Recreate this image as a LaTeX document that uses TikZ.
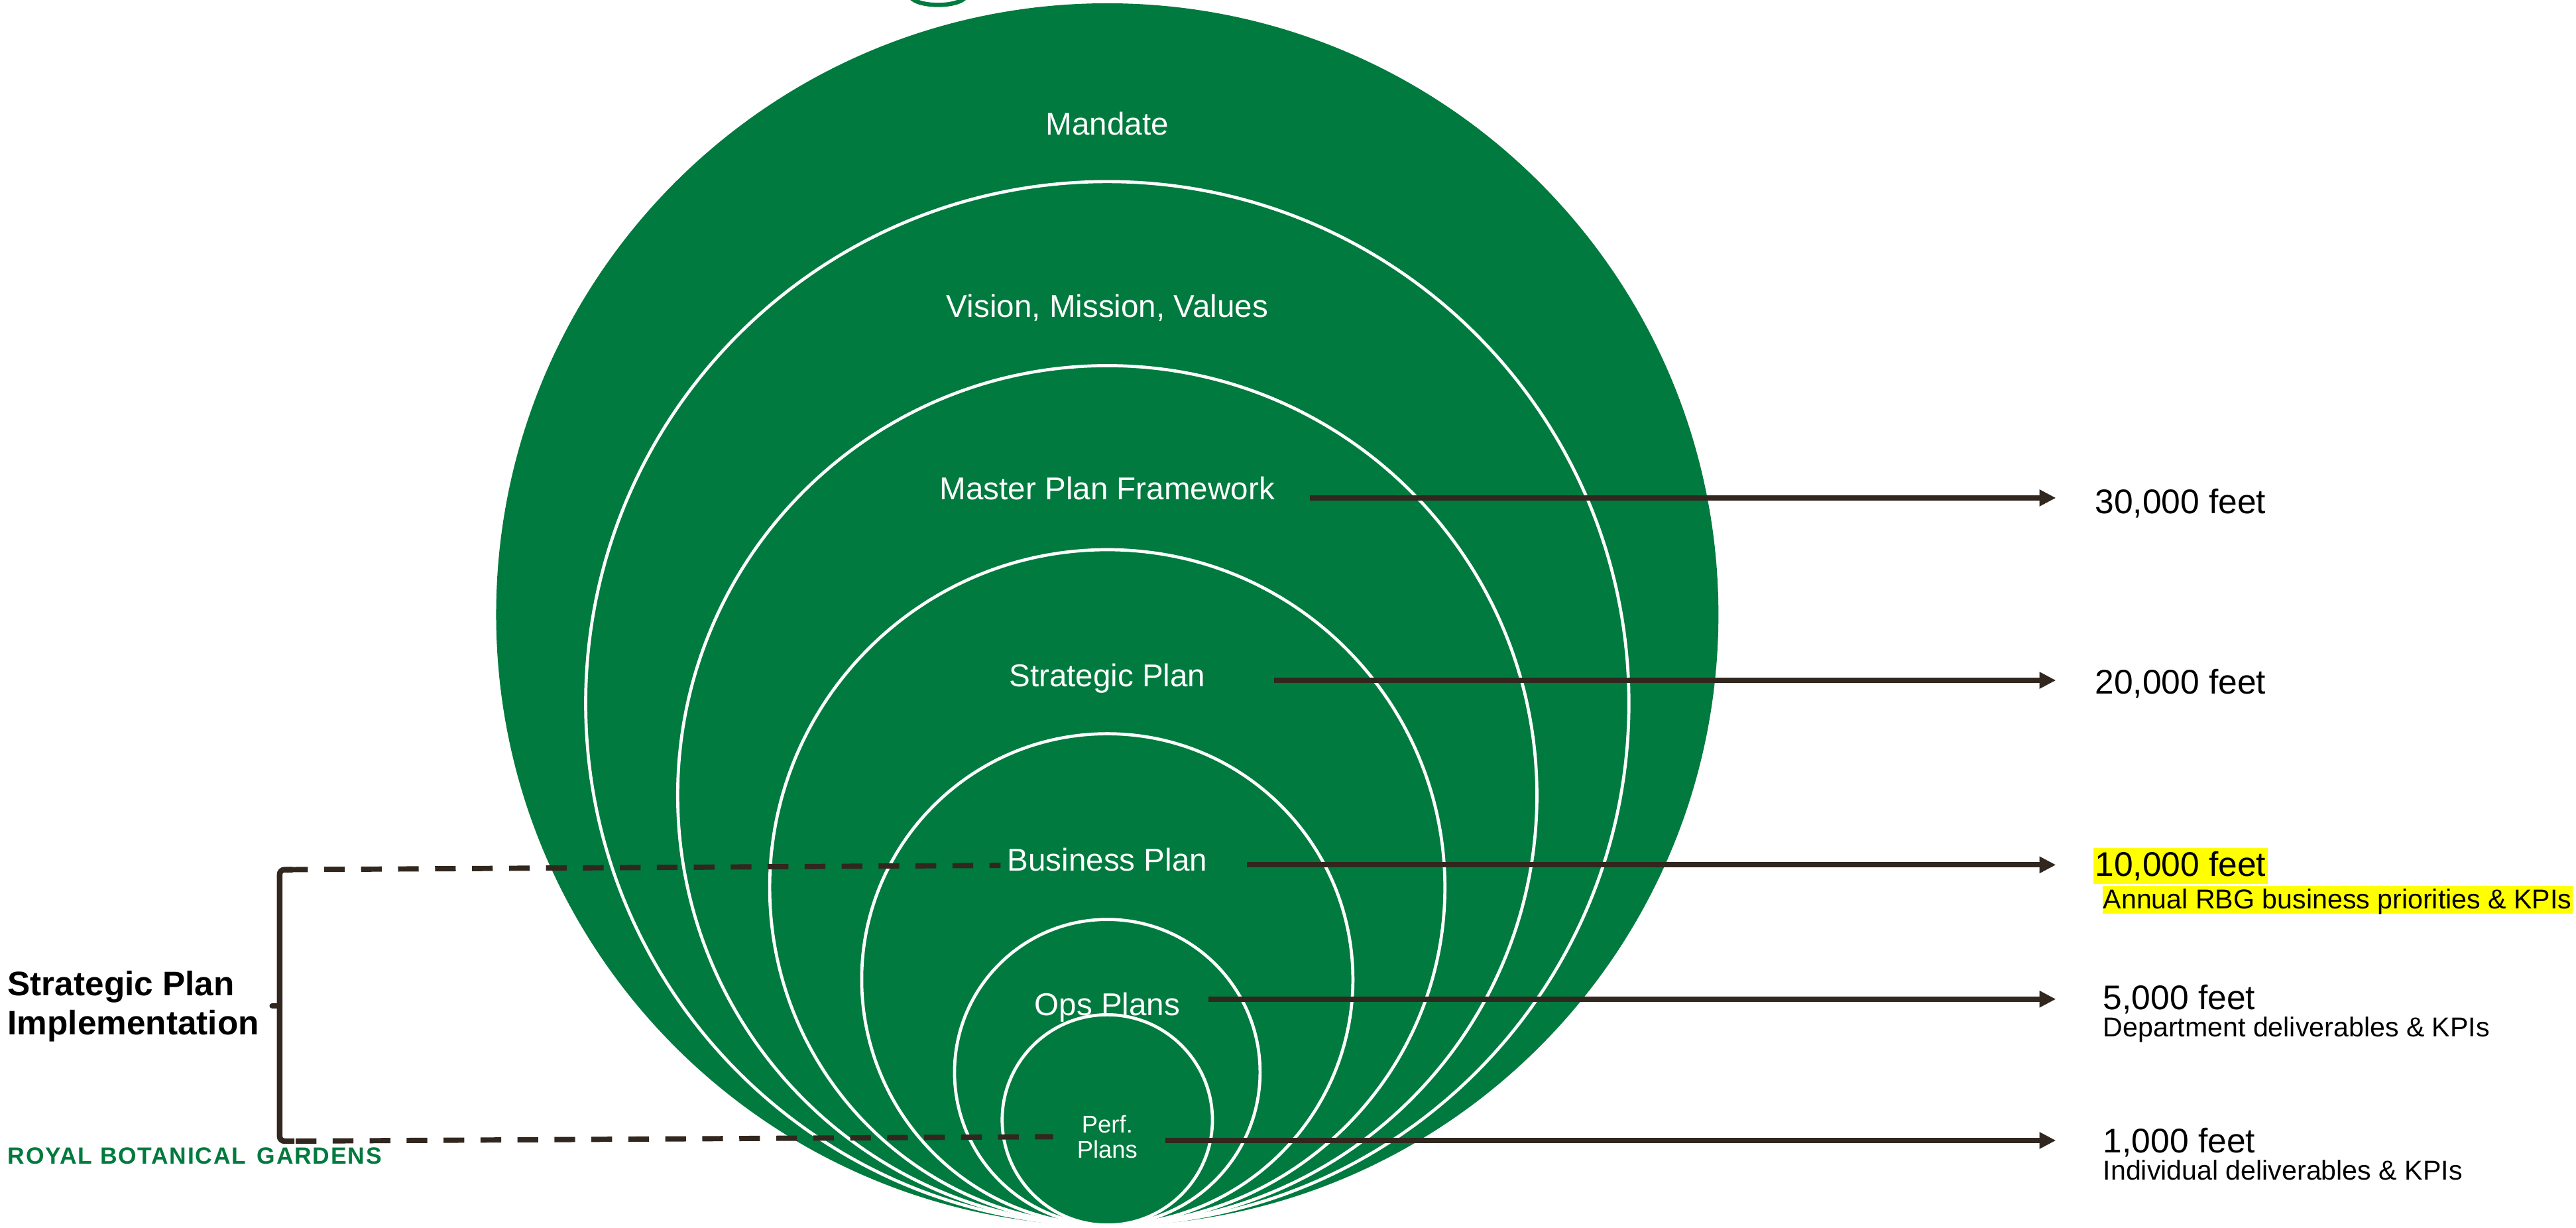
\documentclass[tikz,border=0pt]{standalone}
\usepackage{fontspec}
\setmainfont{Liberation Sans}
\newfontfamily\brandfont[LetterSpace=5]{Liberation Sans}
\usetikzlibrary{arrows.meta}
\definecolor{rbggreen}{RGB}{0,122,62}
\definecolor{ink}{RGB}{49,39,30}
\definecolor{marker}{RGB}{255,255,0}
\begin{document}
\begin{tikzpicture}[x=1pt,y=-1pt,
  ring/.style={draw=white,line width=1.9pt},
  level/.style={text=white,anchor=base,inner sep=0pt,font=\fontsize{19.2}{23}\selectfont},
  small level/.style={text=white,anchor=base,inner sep=0pt,align=center,font=\fontsize{14.7}{15.2}\selectfont},
  altitude/.style={anchor=base west,inner sep=0pt,font=\fontsize{20.8}{24}\selectfont},
  note/.style={anchor=base west,inner sep=0pt,font=\fontsize{16.6}{20}\selectfont},
  pointer/.style={draw=ink,line width=3.3pt,-{Triangle[length=10pt,width=9.6pt]}},
  link/.style={draw=ink,line width=3.2pt,dash pattern=on 12.6pt off 9.9pt},
  brace/.style={draw=ink,line width=3.4pt,rounded corners=3pt},
]
\useasboundingbox (0,0) rectangle (1568,747);

% fragment of the emblem above the circles
\draw[rbggreen,line width=2.6pt] (571,-3) ellipse[x radius=17,y radius=6];

% nested levels, all touching at the bottom
\fill[rbggreen] (674,374) circle[radius=372];
\foreach \r in {317.5,261.5,205.5,149.5,93,64}
  \draw[ring] (674,745.5-\r) circle[radius=\r];

% level names
\node[level] (mandate) at (674,82) {Mandate};
\node[level] (vmv) at (674,193) {Vision, Mission, Values};
\node[level] (master) at (674,304) {Master Plan Framework};
\node[level] (strat) at (674,418) {Strategic Plan};
\node[level] (bus) at (674,530) {Business Plan};
\node[level] (ops) at (674,618) {Ops Plans};
\node[small level] (perf) at (674,704.5) {Perf.\\Plans};

% altitudes
\coordinate (tip) at (1251.4,0);
\node[altitude] (f30) at (1275,312.4) {30,000 feet};
\node[altitude] (f20) at (1275,422.4) {20,000 feet};
\node[altitude,fill=marker,inner xsep=1pt,text height=17.4pt,text depth=4.6pt] (f10) at (1274,533.4) {10,000 feet};
\node[note,fill=marker,inner xsep=0.5pt,text height=14pt,text depth=3pt] (n10) at (1279.5,553) {Annual RBG business priorities \& KPIs};
\node[altitude] (f5) at (1280,614.4) {5,000 feet};
\node[note] (n5) at (1280,631) {Department deliverables \& KPIs};
\node[altitude] (f1) at (1280,701.4) {1,000 feet};
\node[note] (n1) at (1280,718) {Individual deliverables \& KPIs};

% pointers from each level to its altitude
\coordinate (s30) at (797.4,303);
\coordinate (s20) at (775.7,414);
\coordinate (s10) at (759,526.3);
\coordinate (s5) at (735.4,608);
\coordinate (s1) at (709.5,694);
\foreach \s in {s30,s20,s10,s5,s1}
  \draw[pointer] (\s) -- (\s -| tip);

% implementation bracket
\coordinate (bt) at (170.2,529.2);
\coordinate (bb) at (170.2,694.4);
\coordinate (bm) at (170.2,612);
\coordinate (dt) at (609,526.6);
\coordinate (db) at (641,691.7);
\draw[brace] ([xshift=8pt]bt) -- (bt) -- (bb) -- ([xshift=9pt]bb);
\draw[ink,line width=3.4pt,line cap=round] (bm) -- ([xshift=-4.5pt]bm);
\draw[link] ([xshift=4.6pt]bt) -- (dt);
\draw[link] ([xshift=9.8pt]bb) -- (db);

\node[anchor=base west,inner sep=0pt,align=left,font=\bfseries\fontsize{20.7}{23.5}\selectfont] (spi) at (4.5,629.5) {Strategic Plan\\Implementation};
\node[anchor=base west,inner sep=0pt,text=rbggreen,font=\brandfont\bfseries\fontsize{14.3}{16}\selectfont] (rbg) at (4.5,708.5) {ROYAL BOTANICAL\hspace{2pt} GARDENS};
\end{tikzpicture}
\end{document}
